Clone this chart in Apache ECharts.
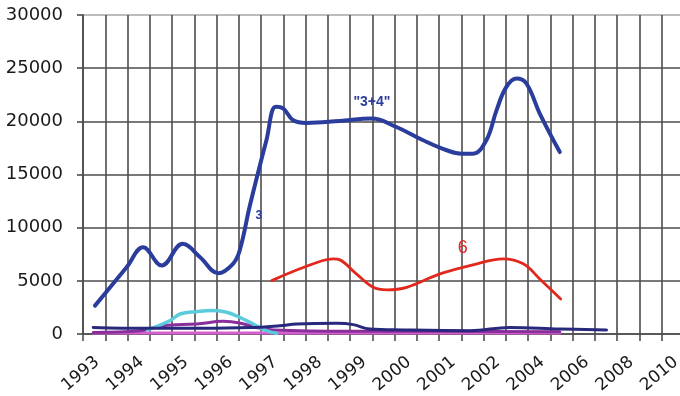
<!DOCTYPE html>
<html>
<head>
<meta charset="utf-8">
<script src="https://cdn.jsdelivr.net/npm/echarts@6/dist/echarts.min.js"></script>
<style>
  html, body { margin: 0; padding: 0; background: #ffffff; }
  #chart { width: 680px; height: 396px; }
</style>
</head>
<body>
<div id="chart"></div>
<script>
// Category labels along the bottom axis; slot i is centred on x = i + 0.5
const yearLabels = ['1993', '1994', '1995', '1996', '1997', '1998', '1999',
                    '2000', '2001', '2002', '2004', '2006', '2008', '2010'];

// Value-axis ticks
const yTicks = [0, 5000, 10000, 15000, 20000, 25000, 30000];

// Series values as [slot position, value]
const series34 = [[0.27, 2670], [0.61, 4400], [0.98, 6280], [1.35, 8160], [1.77, 6440],
                  [2.24, 8480], [2.63, 7220], [3.04, 5710], [3.37, 6600], [3.52, 7850],
                  [3.75, 12100], [4.12, 18220], [4.33, 21360], [4.5, 21200], [4.72, 20100],
                  [5.02, 19850], [5.77, 20040], [6.48, 20260], [7.04, 19470], [7.64, 18220],
                  [8.17, 17280], [8.5, 16960], [8.76, 16960], [9.06, 18220], [9.29, 21050],
                  [9.51, 23240], [9.74, 24030], [9.96, 23560], [10.26, 20730], [10.71, 17110]];

const series6 = [[4.24, 5020], [4.87, 6130], [5.39, 6910], [5.62, 7070], [5.77, 6970],
                 [6.14, 5650], [6.52, 4390], [6.82, 4150], [7.27, 4390], [8.02, 5650],
                 [8.76, 6500], [9.44, 7070], [9.89, 6600], [10.26, 5180], [10.73, 3300]];

const seriesCyan = [[1.45, 400], [1.95, 1250], [2.18, 1880], [2.55, 2100], [2.93, 2200],
                    [3.23, 2040], [3.52, 1560], [3.82, 940], [4.12, 310], [4.35, 60]];

const seriesNavy = [[0.23, 620], [1.43, 530], [2.63, 530], [3.75, 600], [4.42, 780],
                    [4.8, 940], [5.7, 1000], [6.07, 880], [6.44, 470], [7.19, 380],
                    [8.69, 310], [9.59, 620], [10.71, 470], [11.76, 380]];

const seriesPurple = [[0.23, 150], [1.28, 310], [1.8, 780], [2.55, 940], [3.15, 1190],
                      [3.52, 1040], [3.9, 620], [4.27, 380], [6.0, 250], [8.46, 250],
                      [10.71, 200]];

const seriesPink = [[0.23, 100], [5.0, 100], [10.71, 100]];

// Curve annotations: [slot position, value, text]
const noteThree = [3.95, 11170, '3'];
const noteThreeFour = [6.49, 21820, '"3+4"'];
const noteSix = [8.53, 8130, '6'];

const gridColor = '#4d4d4d';
const topLineColor = '#a6a6a6';
const font = 'DejaVu Sans';
const labelAngle = 40;

function line(name, data, color, width, z, mark) {
  const s = {
    name: name,
    type: 'line',
    data: data,
    smooth: 0.4,
    showSymbol: false,
    symbol: 'none',
    z: z,
    lineStyle: { color: color, width: width, cap: 'round', join: 'round' },
    itemStyle: { color: color }
  };
  if (mark) s.markPoint = mark;
  return s;
}

function notes(list, color, fontSizes, weight) {
  return {
    symbol: 'circle',
    symbolSize: 0,
    silent: true,
    data: list.map((n, k) => ({
      coord: [n[0], n[1]],
      label: { formatter: n[2], fontSize: fontSizes[k] }
    })),
    label: {
      show: true,
      position: 'inside',
      color: color,
      fontFamily: 'Liberation Sans',
      fontWeight: weight
    }
  };
}

// Horizontal rules: all dark except the lighter top border
const ySplitColors = yTicks.map((t, i) => (i === yTicks.length - 1 ? topLineColor : gridColor));

const chart = echarts.init(document.getElementById('chart'), null, { renderer: 'canvas' });
chart.setOption({
  animation: false,
  backgroundColor: '#ffffff',
  grid: {
    left: 83, top: 15, bottom: 62, right: -4,
    containLabel: false,
    outerBoundsMode: 'none'
  },
  xAxis: {
    type: 'value',
    min: 0,
    max: 13.5,
    interval: 0.5,
    axisLine: { show: true, lineStyle: { color: gridColor, width: 1.6 } },
    axisTick: { show: true, length: 7, lineStyle: { color: gridColor, width: 1.6 } },
    splitLine: { show: true, lineStyle: { color: gridColor, width: 1.6 } },
    axisLabel: { show: false }
  },
  yAxis: {
    type: 'value',
    min: yTicks[0],
    max: yTicks[yTicks.length - 1],
    interval: 5000,
    axisLine: { show: true, lineStyle: { color: gridColor, width: 1.6 } },
    axisTick: { show: true, length: 6, lineStyle: { color: gridColor, width: 1.6 } },
    splitLine: { show: true, lineStyle: { color: ySplitColors, width: 1.6 } },
    axisLabel: {
      margin: 20,
      formatter: v => String(v),
      color: '#1a1a1a',
      fontFamily: font,
      fontSize: 18
    }
  },
  series: [
    line('pink', seriesPink, '#d561cf', 3, 2),
    line('purple', seriesPurple, '#8a2e9c', 3, 3),
    line('cyan', seriesCyan, '#5ccbdc', 3.5, 4),
    line('navy', seriesNavy, '#28297c', 3, 5),
    line('6', series6, '#e2271d', 2.8, 6, notes([noteSix], '#e2271d', [18], 'normal')),
    line('3+4', series34, '#2a3c9c', 4, 7,
         notes([noteThree, noteThreeFour], '#2a3c9c', [12, 14], 'bold'))
  ]
});

// Slanted year labels: each one ends just left of its category tick
const axisY = chart.convertToPixel({ yAxisIndex: 0 }, 0);
chart.setOption({
  graphic: yearLabels.map((year, i) => ({
    type: 'text',
    x: chart.convertToPixel({ xAxisIndex: 0 }, i + 0.5) - 8,
    y: axisY + 26,
    rotation: labelAngle * Math.PI / 180,
    silent: true,
    style: {
      text: year,
      align: 'right',
      verticalAlign: 'middle',
      fill: '#1a1a1a',
      font: '17px "DejaVu Sans"'
    }
  }))
});
</script>
</body>
</html>
